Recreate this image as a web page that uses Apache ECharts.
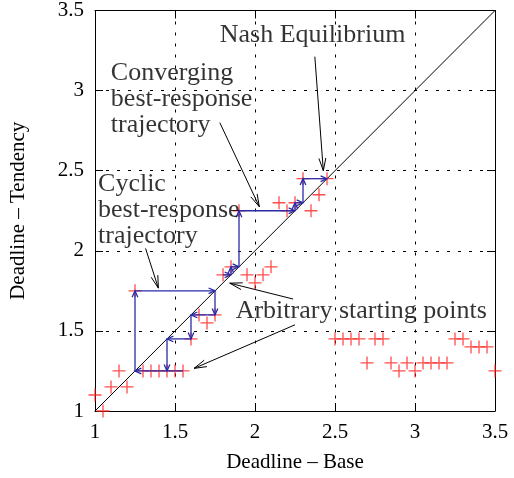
<!DOCTYPE html>
<html><head><meta charset="utf-8">
<script src="https://cdn.jsdelivr.net/npm/echarts@6/dist/echarts.min.js"></script>
<style>html,body{margin:0;padding:0;background:#fff}#c{width:514px;height:478px}</style>
</head><body><div id="c"></div>
<script>
const xTickLabels = ['1', '1.5', '2', '2.5', '3', '3.5'];
const yTickLabels = ['1', '1.5', '2', '2.5', '3', '3.5'];

// Arbitrary starting points [base, tendency]
const startingPoints = [
  [1.0, 1.1], [1.05, 1.0], [1.1, 1.15], [1.15, 1.25], [1.2, 1.15], [1.25, 1.75],
  [1.3, 1.25], [1.35, 1.25], [1.4, 1.25], [1.45, 1.25], [1.5, 1.25], [1.55, 1.25],
  [1.6, 1.45], [1.65, 1.6], [1.7, 1.55], [1.75, 1.6],
  [1.8, 1.85], [1.85, 1.9], [1.95, 1.85], [2.0, 1.8], [2.05, 1.85], [2.1, 1.9],
  [1.9, 2.25], [2.15, 2.3], [2.2, 2.25], [2.25, 2.3], [2.35, 2.25], [2.3, 2.45], [2.4, 2.35], [2.45, 2.45],
  [2.5, 1.45], [2.55, 1.45], [2.6, 1.45], [2.65, 1.45], [2.75, 1.45], [2.8, 1.45], [3.25, 1.45], [3.3, 1.45],
  [3.35, 1.4], [3.4, 1.4], [3.45, 1.4],
  [2.7, 1.3], [2.85, 1.3], [2.95, 1.3], [3.05, 1.3], [3.1, 1.3], [3.15, 1.3], [3.2, 1.3],
  [2.9, 1.25], [3.0, 1.25], [3.5, 1.25]
];

const diagonal = [[1, 1], [3.5, 3.5]];

// Best-response trajectories (vertices, in order)
const cyclicTrajectory = [
  [1.55, 1.25], [1.25, 1.25], [1.25, 1.75], [1.75, 1.75], [1.75, 1.6],
  [1.6, 1.6], [1.6, 1.45], [1.45, 1.45], [1.45, 1.25]
];
const convergingTrajectory = [
  [1.8, 1.85], [1.85, 1.85], [1.85, 1.9], [1.9, 1.9], [1.9, 2.25],
  [2.25, 2.25], [2.25, 2.3], [2.3, 2.3], [2.3, 2.45], [2.45, 2.45]
];

// Annotation arrows [x1, y1, x2, y2] in data units
const annotationArrows = [
  [2.374, 3.212, 2.427, 2.5],
  [1.78, 2.80, 2.027, 2.275],
  [1.316, 2.015, 1.396, 1.767],
  [2.238, 1.699, 1.842, 1.798],
  [2.25, 1.538, 1.619, 1.266]
];
const annotationTexts = ['Nash Equilibrium', 'Converging\nbest-response\ntrajectory', 'Cyclic\nbest-response\ntrajectory', 'Arbitrary starting points'];
const annotationAnchors = [[1.78, 3.425], [1.099, 3.19], [1.019, 2.497], [1.879, 1.705]];

function toSegments(path) {
  const segs = [];
  for (let i = 0; i < path.length - 1; i++) segs.push([path[i][0], path[i][1], path[i + 1][0], path[i + 1][1]]);
  return segs;
}

function arrowRenderer(color, width, headLen, headAngle) {
  return function (params, api) {
    const p1 = api.coord([api.value(0), api.value(1)]);
    const p2 = api.coord([api.value(2), api.value(3)]);
    const ang = Math.atan2(p2[1] - p1[1], p2[0] - p1[0]);
    const a1 = ang + Math.PI - headAngle, a2 = ang + Math.PI + headAngle;
    const h1 = [p2[0] + headLen * Math.cos(a1), p2[1] + headLen * Math.sin(a1)];
    const h2 = [p2[0] + headLen * Math.cos(a2), p2[1] + headLen * Math.sin(a2)];
    return {
      type: 'group', children: [
        { type: 'line', shape: { x1: p1[0], y1: p1[1], x2: p2[0], y2: p2[1] }, style: { stroke: color, lineWidth: width } },
        { type: 'polyline', shape: { points: [h1, p2, h2] }, style: { stroke: color, lineWidth: width, fill: null } }
      ]
    };
  };
}

const FONT = 'Liberation Serif';
const PLUS = 'path://M-0.1,-1 L0.1,-1 L0.1,-0.1 L1,-0.1 L1,0.1 L0.1,0.1 L0.1,1 L-0.1,1 L-0.1,0.1 L-1,0.1 L-1,-0.1 L-0.1,-0.1 Z';

const chart = echarts.init(document.getElementById('c'), null, { renderer: 'canvas' });

function axisBase(pos, labels, show) {
  return {
    type: 'value', min: 1, max: 3.5, interval: 0.5, position: pos,
    axisLine: { show: true, onZero: false, lineStyle: { color: '#000', width: 1 } },
    axisTick: { show: true, inside: true, length: 8, lineStyle: { color: '#000', width: 1 } },
    axisLabel: show ? {
      show: true, color: '#000', fontFamily: FONT, fontSize: 21, margin: 11,
      formatter: v => labels[Math.round((v - 1) / 0.5)]
    } : { show: false },
    splitLine: show ? { show: true, lineStyle: { color: '#000', width: 1, type: [3, 8] } } : { show: false }
  };
}

const xMain = axisBase('bottom', xTickLabels, true);
xMain.name = 'Deadline – Base';
xMain.nameLocation = 'middle';
xMain.nameGap = 41;
xMain.nameTextStyle = { color: '#000', fontFamily: FONT, fontSize: 21 };
const yMain = axisBase('left', yTickLabels, true);
yMain.name = 'Deadline – Tendency';
yMain.nameLocation = 'middle';
yMain.nameGap = 66;
yMain.nameTextStyle = { color: '#000', fontFamily: FONT, fontSize: 21 };

chart.setOption({
  animation: false,
  backgroundColor: '#fff',
  grid: { left: 91, right: 19, top: 10, bottom: 64, show: false },
  xAxis: [xMain, axisBase('top', xTickLabels, false)],
  yAxis: [yMain, axisBase('right', yTickLabels, false)],
  series: [
    {
      type: 'line', data: diagonal, symbol: 'none', silent: true,
      lineStyle: { color: '#000', width: 1 }, z: 2
    },
    {
      type: 'scatter', data: startingPoints, symbol: PLUS, symbolSize: 13,
      itemStyle: { color: '#ff2020' }, z: 3
    },
    {
      type: 'custom', data: toSegments(cyclicTrajectory), renderItem: arrowRenderer('#2a2aa6', 1.3, 7, 0.42),
      encode: { x: [0, 2], y: [1, 3] }, z: 4, silent: true
    },
    {
      type: 'custom', data: toSegments(convergingTrajectory), renderItem: arrowRenderer('#2a2aa6', 1.3, 7, 0.42),
      encode: { x: [0, 2], y: [1, 3] }, z: 4, silent: true
    },
    {
      type: 'custom', data: annotationArrows, renderItem: arrowRenderer('#000', 1, 13, 0.27),
      encode: { x: [0, 2], y: [1, 3] }, z: 5, silent: true
    },
    {
      type: 'scatter', symbolSize: 0, silent: true, z: 6,
      data: annotationAnchors.map((p, i) => ({ value: p, name: annotationTexts[i] })),
      label: {
        show: true, position: [0, 0], align: 'left', verticalAlign: 'top',
        formatter: p => p.name, color: '#000', fontFamily: FONT, fontSize: 26, lineHeight: 26
      }
    }
  ]
});
</script></body></html>
